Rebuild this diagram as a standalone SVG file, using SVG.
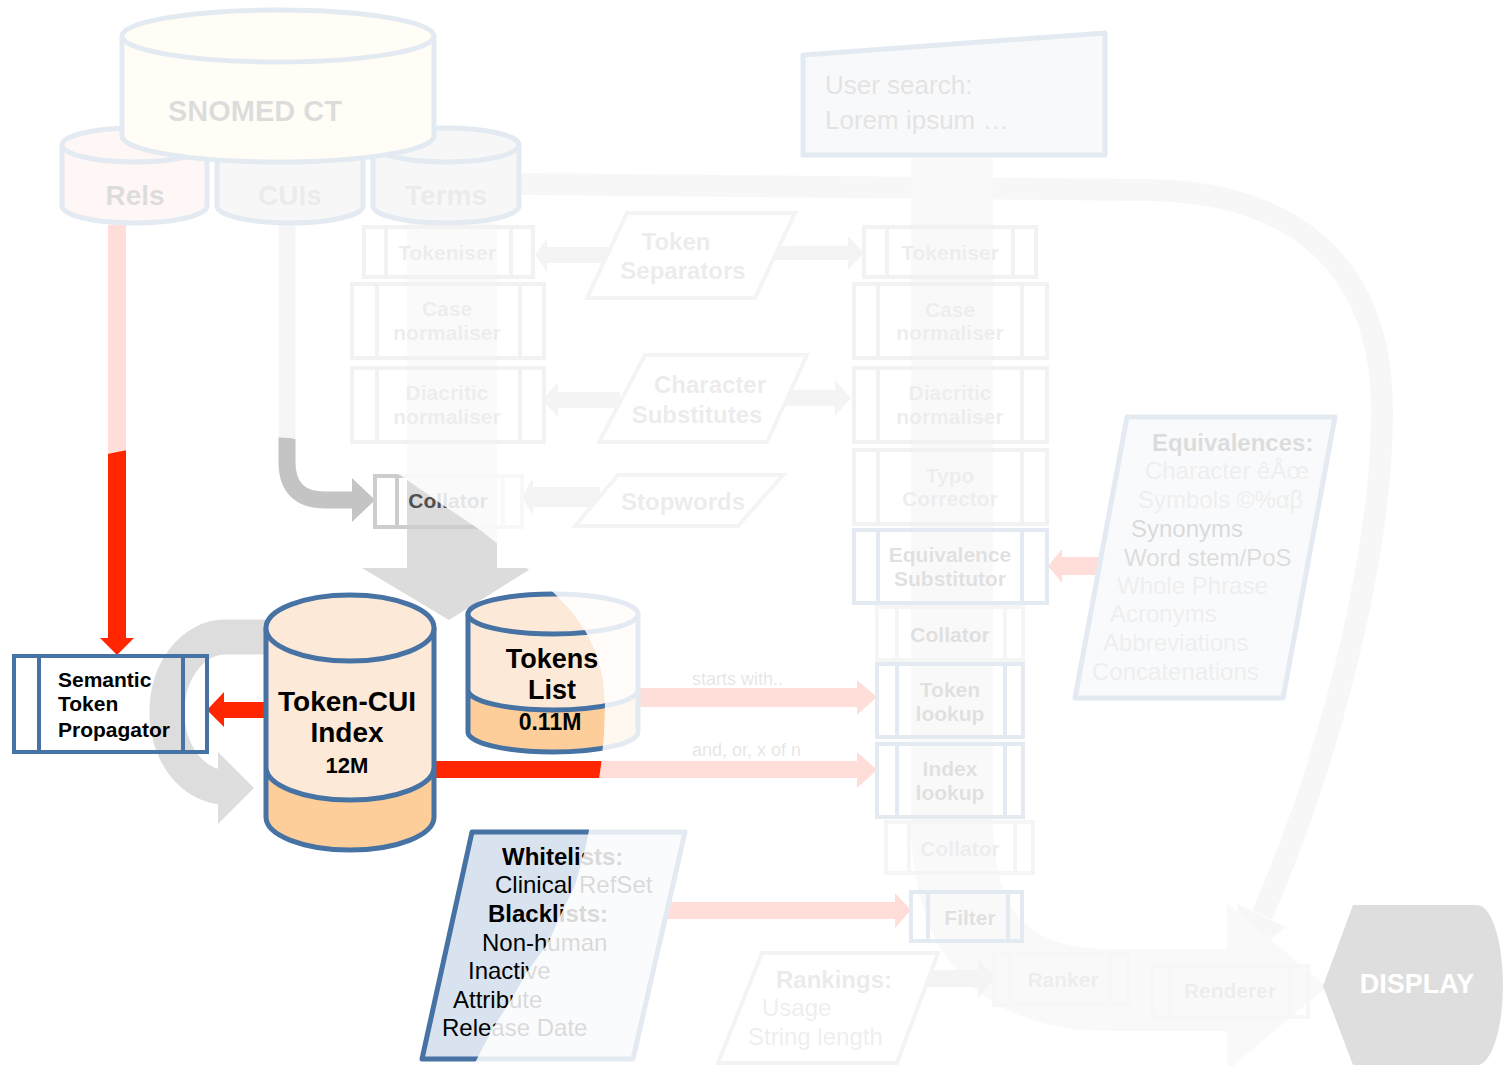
<svg xmlns="http://www.w3.org/2000/svg" width="1503" height="1066" viewBox="0 0 1503 1066">
<style>
.t{font-family:"Liberation Sans",Arial,Helvetica,sans-serif}
.bd{font-weight:bold}
.m{text-anchor:middle}
.box{fill:none;stroke-width:4}
.gb{stroke:#a8a8a8}
.lb{stroke:#bdbdbd}
.vb{stroke:#cacaca}
.bb{stroke:#4672a4}
.cyl{stroke:#4672a4;stroke-width:5}
.par{fill:#fff;stroke:#b4b4b4;stroke-width:4}
.garr{fill:#b4b4b4}
.red{fill:#ff2600}
.p21{font-size:21px}
.p24{font-size:24px}
</style>
<rect width="1503" height="1066" fill="#fff"/>

<g id="connectors">
  <!-- big flows -->
  <path d="M519,184 L1150,190 C1290,193 1385,260 1382,420 C1380,560 1330,760 1262,915" fill="none" stroke="#cacaca" stroke-width="22"/>
  <polygon points="1286,927 1243,962 1237,904" fill="#cacaca"/>
  <path d="M952,150 V820 C952,935 1005,990 1110,990 H1232" fill="none" stroke="#d7d7d7" stroke-width="82"/>
  <polygon points="1227,903 1327,987 1227,1071" fill="#d7d7d7"/>
  <path d="M407,222 H497 V568 H532 L449,620 L362,568 H407 Z" fill="#dcdcdc"/>
  <path d="M287,225 V462 Q287,500 325,500 H354" fill="none" stroke="#c4c4c4" stroke-width="17"/>
  <polygon points="352,478 375,500 352,522" fill="#c4c4c4"/>
  <path d="M272,637 H225 A58,75 0 0 0 225,787 H220" fill="none" stroke="#dddddd" stroke-width="35"/>
  <polygon points="218,752 254,788 218,824" fill="#dddddd"/>
  <!-- red arrows -->
  <path class="red" d="M108,225 H126 V638 H134 L117,655 L100,638 H108 Z"/>
  <path class="red" d="M266,702 H224 V692 L207,710 L224,727 V718 H266 Z"/>
  <path class="red" d="M430,761 H857 V752 L877,770 L857,788 V778 H430 Z"/>
  <path class="red" d="M636,688 H857 V680 L877,697 L857,715 V707 H636 Z"/>
  <path class="red" d="M660,902 H895 V893 L911,910 L895,928 V919 H660 Z"/>
  <path class="red" d="M1105,557 H1062 V549 L1048,566 L1062,583 V575 H1105 Z"/>
  <!-- gray small arrows -->
  <path class="garr" d="M612,247 H547 V238 L535,255 L547,272 V263 H612 Z"/>
  <path class="garr" d="M770,246 H848 V236 L864,253 L848,270 V260 H770 Z"/>
  <path class="garr" d="M620,392 H558 V382 L542,400 L558,417 V408 H620 Z"/>
  <path class="garr" d="M785,390 H835 V380 L851,398 L835,416 V406 H785 Z"/>
  <path class="garr" d="M600,487 H533 V478 L522,497 L533,515 V507 H600 Z"/>
  <path class="garr" d="M915,970 H978 V958 L995,978 L978,998 V987 H915 Z"/>
  <text class="t" x="692" y="685" font-size="18" fill="#555">starts with..</text>
  <text class="t" x="692" y="756" font-size="18" fill="#555">and, or, x of n</text>
</g>

<g id="rels">
  <path d="M62,145 V206 A72.5,17 0 0 0 207,206 V145 Z" fill="#ffc4c4"/>
  <path class="cyl" d="M62,145 V206 A72.5,17 0 0 0 207,206 V145" fill="none"/>
  <ellipse class="cyl" cx="134.5" cy="145" rx="72.5" ry="17" fill="#ffc4c4"/>
  <text class="t bd m" x="135" y="205" font-size="28" fill="#1a1a1a">Rels</text>
</g>
<g id="cuis">
  <path d="M217,145 V206 A73,17 0 0 0 363,206 V145 Z" fill="#cacaca"/>
  <path class="cyl" d="M217,145 V206 A73,17 0 0 0 363,206 V145" fill="none"/>
  <ellipse class="cyl" cx="290" cy="145" rx="73" ry="17" fill="#cacaca"/>
  <text class="t bd m" x="290" y="205" font-size="28" fill="#7a7a7a">CUIs</text>
</g>
<g id="terms">
  <path d="M373,145 V206 A73,17 0 0 0 519,206 V145 Z" fill="#cacaca"/>
  <path class="cyl" d="M373,145 V206 A73,17 0 0 0 519,206 V145" fill="none"/>
  <ellipse class="cyl" cx="446" cy="145" rx="73" ry="17" fill="#cacaca"/>
  <text class="t bd m" x="446" y="205" font-size="28" fill="#7a7a7a">Terms</text>
</g>
<g id="snomed">
  <path d="M122,36 V136 A156,26 0 0 0 434,136 V36 Z" fill="#fff2bc"/>
  <path class="cyl" d="M122,36 V136 A156,26 0 0 0 434,136 V36" fill="none"/>
  <ellipse class="cyl" cx="278" cy="36" rx="156" ry="26" fill="#fff2bc"/>
  <text class="t bd m" x="255" y="121" font-size="29" fill="#1a1a1a">SNOMED CT</text>
</g>

<g id="user-search">
  <polygon points="803,55 1105,33 1105,155 803,155" fill="#ccd3e0" stroke="#4672a4" stroke-width="5" stroke-linejoin="round"/>
  <text class="t" x="825" y="94" font-size="26" fill="#444">User search:</text>
  <text class="t" x="825" y="129" font-size="26" fill="#444">Lorem ipsum …</text>
</g>

<!-- left pipeline -->
<g id="tokeniser-l"><rect class="box gb" x="364" y="227" width="169" height="50"/><path class="box gb" d="M386,227V277M511,227V277"/><text class="t bd m p21" x="447" y="260" fill="#888">Tokeniser</text></g>
<g id="case-l"><rect class="box gb" x="352" y="284" width="192" height="74"/><path class="box gb" d="M377,284V358M520,284V358"/><text class="t bd m p21" x="447" y="316" fill="#888">Case</text><text class="t bd m p21" x="447" y="340" fill="#888">normaliser</text></g>
<g id="diacritic-l"><rect class="box gb" x="352" y="368" width="192" height="74"/><path class="box gb" d="M377,368V442M520,368V442"/><text class="t bd m p21" x="447" y="400" fill="#888">Diacritic</text><text class="t bd m p21" x="447" y="424" fill="#888">normaliser</text></g>
<g id="collator-l"><rect class="box" stroke="#cdcdcd" x="375" y="476" width="147" height="51"/><path class="box" stroke="#cdcdcd" d="M397,476V527M503,476V527"/><text class="t bd m p21" x="448" y="508" fill="#505050">Collator</text></g>

<g id="token-separators"><polygon class="par" points="627,213 795,213 755,298 587,298"/><text class="t bd m p24" x="676" y="250" fill="#808080">Token</text><text class="t bd m p24" x="683" y="279" fill="#808080">Separators</text></g>
<g id="character-substitutes"><polygon class="par" points="645,355 807,355 767,442 599,442"/><text class="t bd m p24" x="710" y="393" fill="#808080">Character</text><text class="t bd m p24" x="697" y="423" fill="#808080">Substitutes</text></g>
<g id="stopwords"><polygon class="par" points="618,475 783,475 738,526 575,526"/><text class="t bd m p24" x="683" y="510" fill="#808080">Stopwords</text></g>

<!-- right pipeline -->
<g id="tokeniser-r"><rect class="box gb" x="864" y="227" width="172" height="50"/><path class="box gb" d="M887,227V277M1013,227V277"/><text class="t bd m p21" x="950" y="260" fill="#888">Tokeniser</text></g>
<g id="case-r"><rect class="box gb" x="854" y="284" width="193" height="74"/><path class="box gb" d="M878,284V358M1022,284V358"/><text class="t bd m p21" x="950" y="317" fill="#888">Case</text><text class="t bd m p21" x="950" y="340" fill="#888">normaliser</text></g>
<g id="diacritic-r"><rect class="box gb" x="854" y="368" width="193" height="74"/><path class="box gb" d="M878,368V442M1022,368V442"/><text class="t bd m p21" x="950" y="400" fill="#888">Diacritic</text><text class="t bd m p21" x="950" y="424" fill="#888">normaliser</text></g>
<g id="typo-corrector"><rect class="box gb" x="854" y="450" width="193" height="74"/><path class="box gb" d="M878,450V524M1022,450V524"/><text class="t bd m p21" x="950" y="483" fill="#888">Typo</text><text class="t bd m p21" x="950" y="506" fill="#888">Corrector</text></g>
<g id="equivalence-substitutor"><rect class="box bb" x="854" y="530" width="193" height="73"/><path class="box bb" d="M878,530V603M1022,530V603"/><text class="t bd m p21" x="950" y="562" fill="#333">Equivalence</text><text class="t bd m p21" x="950" y="586" fill="#333">Substitutor</text></g>
<g id="collator-r1"><rect class="box lb" x="877" y="607" width="146" height="53"/><path class="box lb" d="M897,607V660M1005,607V660"/><text class="t bd m p21" x="950" y="642" fill="#2a2a2a">Collator</text></g>
<g id="token-lookup"><rect class="box bb" x="877" y="664" width="146" height="73"/><path class="box bb" d="M897,664V737M1005,664V737"/><text class="t bd m p21" x="950" y="697" fill="#333">Token</text><text class="t bd m p21" x="950" y="721" fill="#333">lookup</text></g>
<g id="index-lookup"><rect class="box bb" x="877" y="744" width="146" height="73"/><path class="box bb" d="M897,744V817M1005,744V817"/><text class="t bd m p21" x="950" y="776" fill="#333">Index</text><text class="t bd m p21" x="950" y="800" fill="#333">lookup</text></g>
<g id="collator-r2"><rect class="box lb" x="886" y="822" width="147" height="51"/><path class="box lb" d="M909,822V873M1015,822V873"/><text class="t bd m p21" x="960" y="856" fill="#888">Collator</text></g>
<g id="filter"><rect class="box bb" x="911" y="892" width="111" height="49"/><path class="box bb" d="M928,892V941M1008,892V941"/><text class="t bd m p21" x="970" y="925" fill="#333">Filter</text></g>
<g id="ranker"><rect class="box vb" x="994" y="954" width="134" height="51"/><path class="box vb" d="M1010,954V1005M1110,954V1005"/><text class="t bd m p21" x="1063" y="987" fill="#888">Ranker</text></g>
<g id="renderer"><rect class="box vb" x="1152" y="966" width="156" height="51"/><path class="box vb" d="M1170,966V1017M1290,966V1017"/><text class="t bd m p21" x="1230" y="998" fill="#888">Renderer</text></g>

<g id="equivalences">
  <polygon points="1127,417 1335,417 1283,698 1075,698" fill="#d1deec" stroke="#4672a4" stroke-width="5" stroke-linejoin="round"/>
  <g class="t p24">
    <text class="bd" x="1152" y="451" fill="#1a1a1a">Equivalences:</text>
    <text x="1145" y="479" fill="#8c8c8c">Character êÅœ</text>
    <text x="1138" y="508" fill="#8c8c8c">Symbols ©%αβ</text>
    <text x="1131" y="537" fill="#000">Synonyms</text>
    <text x="1124" y="566" fill="#1a1a1a">Word stem/PoS</text>
    <text x="1117" y="594" fill="#8c8c8c">Whole Phrase</text>
    <text x="1110" y="622" fill="#8c8c8c">Acronyms</text>
    <text x="1103" y="651" fill="#8c8c8c">Abbreviations</text>
    <text x="1092" y="680" fill="#8c8c8c">Concatenations</text>
  </g>
</g>

<g id="rankings">
  <polygon class="par" points="762,953 938,953 897,1063 718,1063"/>
  <text class="t bd p24" x="776" y="988" fill="#777">Rankings:</text>
  <text class="t p24" x="762" y="1016" fill="#8c8c8c">Usage</text>
  <text class="t p24" x="748" y="1045" fill="#8c8c8c">String length</text>
</g>

<g id="display">
  <path d="M1323,986 L1353,905 H1477 A26,80 0 0 1 1477,1065 H1353 Z" fill="#262626"/>
  <text class="t bd m" x="1417" y="993" font-size="27" fill="#fff">DISPLAY</text>
</g>

<g id="semantic-token-propagator">
  <rect x="14" y="656" width="193" height="96" fill="none" stroke="#4672a4" stroke-width="4"/>
  <path d="M39,656V752M183,656V752" stroke="#4672a4" stroke-width="4"/>
  <text class="t bd p21" x="58" y="687">Semantic</text>
  <text class="t bd p21" x="58" y="711">Token</text>
  <text class="t bd p21" x="58" y="737">Propagator</text>
</g>

<g id="token-cui-index">
  <path d="M266,628 V817 A84,33 0 0 0 434,817 V628 Z" fill="#fde9d8"/>
  <path d="M266,767 A84,33 0 0 0 434,767 V817 A84,33 0 0 1 266,817 Z" fill="#fdcd9a"/>
  <path class="cyl" d="M266,628 V817 A84,33 0 0 0 434,817 V628 M266,767 A84,33 0 0 0 434,767" fill="none"/>
  <ellipse class="cyl" cx="350" cy="628" rx="84" ry="33" fill="#fde9d8"/>
  <text class="t bd m" x="347" y="711" font-size="28">Token-CUI</text>
  <text class="t bd m" x="347" y="742" font-size="28">Index</text>
  <text class="t bd m" x="347" y="773" font-size="22">12M</text>
</g>

<g id="tokens-list">
  <path d="M468,614 V732 A85,20 0 0 0 638,732 V614 Z" fill="#fde9d8"/>
  <path d="M468,690 A85,20 0 0 0 638,690 V732 A85,20 0 0 1 468,732 Z" fill="#fdcd9a"/>
  <path class="cyl" d="M468,614 V732 A85,20 0 0 0 638,732 V614 M468,690 A85,20 0 0 0 638,690" fill="none"/>
  <ellipse class="cyl" cx="553" cy="614" rx="85" ry="20" fill="#fde9d8"/>
  <text class="t bd m" x="552" y="668" font-size="27">Tokens</text>
  <text class="t bd m" x="552" y="699" font-size="27">List</text>
  <text class="t bd m" x="550" y="730" font-size="23">0.11M</text>
</g>

<g id="whitelists">
  <polygon points="472,832 685,832 633,1059 422,1059" fill="#d9e3ef" stroke="#4672a4" stroke-width="5" stroke-linejoin="round"/>
  <g class="t p24">
    <text class="bd" x="502" y="865">Whitelists:</text>
    <text x="495" y="893">Clinical RefSet</text>
    <text class="bd" x="488" y="922">Blacklists:</text>
    <text x="482" y="951">Non-human</text>
    <text x="468" y="979">Inactive</text>
    <text x="453" y="1008">Attribute</text>
    <text x="442" y="1036">Release Date</text>
  </g>
</g>

<g id="fade-overlay">
  <path fill="#fff" fill-opacity="0.85" fill-rule="evenodd" d="M0,0 H1503 V1066 H0 Z M-20,505 L40,473 L80,460 L117,452 L160,444 L210,438 L250,436 L290,438 L330,446 L365,461 L400,475 L440,503 L483,532 L520,562 L555,594 L572,612 L586,632 L597,655 L603,680 L605,705 L604,735 L601,765 L596,800 L590,825 L586,845 L583,857 L575,885 L561,914 L548,943 L527,972 L511,1000 L493,1028 L477,1059 L470,1072 L-20,1072 Z"/>
</g>
</svg>
